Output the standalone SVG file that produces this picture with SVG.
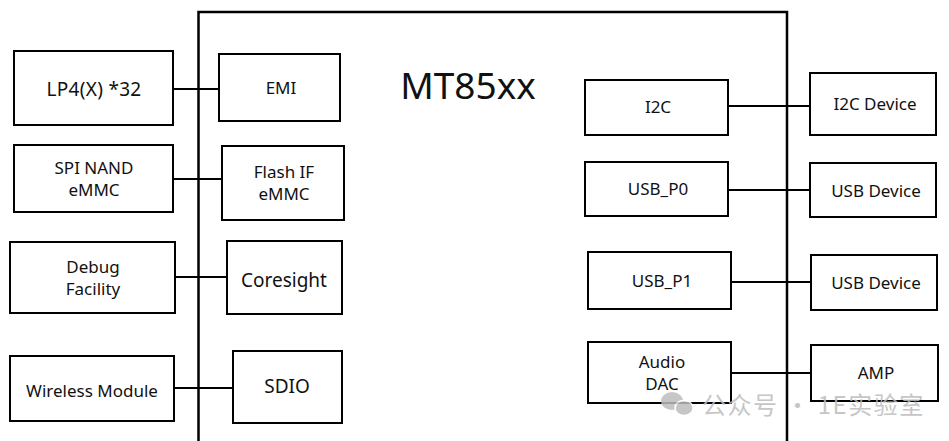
<svg xmlns="http://www.w3.org/2000/svg" width="949" height="441" viewBox="0 0 949 441">
<style>
.b{fill:#fff;stroke:#000;stroke-width:2}
.t{font-family:"Noto Sans","Open Sans","Liberation Sans",sans-serif;font-size:17px;fill:#111;text-anchor:middle}
.c{stroke:#000;stroke-width:2;fill:none}
.wm{font-family:"Noto Sans CJK SC","Noto Sans",sans-serif;font-size:24px;letter-spacing:1.5px;fill:#bdbdbd}
</style>
<rect x="0" y="0" width="949" height="441" fill="#fff"/>
<g id="chip">
<path d="M198.5,445 V12 H787 V445" fill="none" stroke="#000" stroke-width="2.5"/>
<text x="468" y="99" class="t" style="font-size:37px">MT85xx</text>
</g>
<g id="connectors">
<line class="c" x1="173" y1="89" x2="219" y2="89"/>
<line class="c" x1="173" y1="179" x2="222" y2="179"/>
<line class="c" x1="175" y1="277" x2="227" y2="277"/>
<line class="c" x1="174" y1="388" x2="233" y2="388"/>
<line class="c" x1="728" y1="106" x2="810" y2="106"/>
<line class="c" x1="728" y1="190" x2="810" y2="190" stroke-width="2.5"/>
<line class="c" x1="731" y1="282" x2="811" y2="282"/>
<line class="c" x1="731" y1="373" x2="811" y2="373"/>
</g>
<g id="lp4"><rect class="b" x="14" y="51" width="159" height="74"/><text class="t" x="94" y="96" style="font-size:19px;letter-spacing:0.3px">LP4(X) *32</text></g>
<g id="emi"><rect class="b" x="219" y="54" width="121" height="67"/><text class="t" x="281" y="94">EMI</text></g>
<g id="spinand"><rect class="b" x="14" y="145" width="159" height="67"/><text class="t" x="94" y="174">SPI NAND</text><text class="t" x="94" y="196">eMMC</text></g>
<g id="flashif"><rect class="b" x="222" y="146" width="122" height="74" stroke-width="2.5"/><text class="t" x="284" y="178">Flash IF</text><text class="t" x="284" y="200">eMMC</text></g>
<g id="debug"><rect class="b" x="10" y="242" width="165" height="71"/><text class="t" x="93" y="273">Debug</text><text class="t" x="93" y="295">Facility</text></g>
<g id="coresight"><rect class="b" x="227" y="241" width="115" height="73"/><text class="t" x="284" y="287" style="font-size:19px">Coresight</text></g>
<g id="wireless"><rect class="b" x="10" y="356" width="164" height="65"/><text class="t" x="92" y="397">Wireless Module</text></g>
<g id="sdio"><rect class="b" x="233" y="351" width="109" height="72"/><text class="t" x="287" y="393" style="font-size:19px">SDIO</text></g>
<g id="i2c"><rect class="b" x="585" y="80" width="143" height="55"/><text class="t" x="658" y="113">I2C</text></g>
<g id="i2cdev"><rect class="b" x="810" y="73" width="126" height="62"/><text class="t" x="875" y="110">I2C Device</text></g>
<g id="usbp0"><rect class="b" x="585" y="162" width="143" height="54"/><text class="t" x="658" y="195">USB_P0</text></g>
<g id="usbdev0"><rect class="b" x="810" y="163" width="126" height="54"/><text class="t" x="876" y="197">USB Device</text></g>
<g id="usbp1"><rect class="b" x="588" y="252" width="143" height="57"/><text class="t" x="662" y="287">USB_P1</text></g>
<g id="usbdev1"><rect class="b" x="811" y="255" width="126" height="55"/><text class="t" x="876" y="289">USB Device</text></g>
<g id="audiodac"><rect class="b" x="588" y="342" width="143" height="61"/><text class="t" x="662" y="368">Audio</text><text class="t" x="662" y="390">DAC</text></g>
<g id="amp"><rect class="b" x="811" y="345" width="127" height="56"/><text class="t" x="876" y="379">AMP</text></g>
<g id="watermark" opacity="0.85">
<ellipse cx="672" cy="401" rx="11" ry="9" fill="#bdbdbd"/>
<ellipse cx="684" cy="408" rx="9" ry="7.5" fill="#bdbdbd" stroke="#fff" stroke-width="1.5"/>
<text class="wm" x="702" y="414">公众号 · 1E实验室</text>
</g>
</svg>
